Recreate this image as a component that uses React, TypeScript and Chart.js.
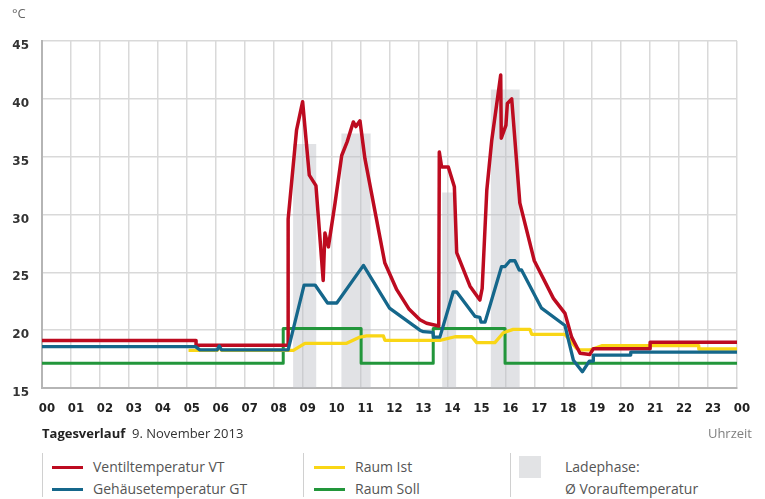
import React, { useEffect, useRef } from "react";
import { Chart, registerables } from "chart.js";

Chart.register(...registerables);

// ---- data (hours of day, °C) ----
const hourLabels = ["00","01","02","03","04","05","06","07","08","09","10","11","12","13","14","15","16","17","18","19","20","21","22","23","00"];
const yTickValues = [15, 20, 25, 30, 35, 40, 45];

const ventilHours = [0, 5.32, 5.32, 8.5, 8.5, 8.79, 9.0, 9.23, 9.46, 9.71, 9.77, 9.89, 10.12, 10.35, 10.54, 10.75, 10.84, 10.98, 11.15, 11.84, 12.25, 12.68, 13.05, 13.28, 13.7, 13.72, 13.8, 14.03, 14.24, 14.32, 14.78, 15.12, 15.2, 15.36, 15.53, 15.84, 15.86, 16.02, 16.07, 16.22, 16.5, 17.0, 17.66, 18.06, 18.29, 18.58, 18.92, 19.04, 21.0, 21.0, 24];
const ventilTemps = [19.1, 19.1, 18.7, 18.7, 29.6, 37.3, 39.75, 33.4, 32.5, 24.3, 28.4, 27.2, 31.0, 35.1, 36.3, 38.0, 37.6, 38.1, 34.85, 25.8, 23.5, 21.8, 20.9, 20.6, 20.36, 35.4, 34.1, 34.1, 32.4, 26.7, 23.8, 22.6, 23.6, 32.1, 36.4, 42.06, 36.6, 37.7, 39.6, 40.0, 31.0, 26.0, 22.75, 21.45, 19.4, 18.0, 17.9, 18.4, 18.4, 18.95, 18.95];

const gehaeuseHours = [0, 5.3, 5.45, 6.05, 6.12, 6.2, 8.5, 9.05, 9.43, 9.86, 10.18, 11.1, 12.0, 13.05, 13.17, 13.5, 13.52, 13.74, 14.2, 14.32, 14.95, 15.12, 15.16, 15.3, 15.36, 15.87, 15.99, 16.16, 16.33, 16.48, 16.56, 17.25, 18.06, 18.35, 18.66, 18.9, 19.04, 19.04, 20.33, 20.33, 24];
const gehaeuseTemps = [18.57, 18.57, 18.3, 18.3, 18.63, 18.3, 18.3, 23.9, 23.9, 22.35, 22.35, 25.6, 21.9, 20.0, 19.87, 19.8, 19.4, 19.4, 23.3, 23.3, 21.2, 21.1, 20.7, 20.7, 21.2, 25.5, 25.5, 26.0, 26.0, 25.2, 25.2, 21.9, 20.4, 17.4, 16.4, 17.33, 17.33, 17.85, 17.85, 18.1, 18.1];

const raumIstHours = [5.06, 6.05, 6.12, 6.2, 8.68, 9.08, 10.52, 10.98, 11.21, 11.79, 11.84, 13.74, 14.26, 14.84, 15.01, 15.64, 15.93, 16.27, 16.85, 16.91, 18.06, 18.46, 18.58, 18.92, 19.35, 22.68, 22.68, 24];
const raumIstTemps = [18.25, 18.25, 18.55, 18.25, 18.25, 18.86, 18.86, 19.4, 19.5, 19.5, 19.12, 19.12, 19.43, 19.43, 18.92, 18.92, 19.78, 20.07, 20.07, 19.64, 19.64, 18.43, 18.29, 18.29, 18.66, 18.66, 18.37, 18.37];

const raumSollHours = [0, 8.33, 8.33, 11.02, 11.02, 13.51, 13.51, 15.99, 15.99, 24];
const raumSollTemps = [17.15, 17.15, 20.15, 20.15, 17.15, 17.15, 20.15, 20.15, 17.15, 17.15];

const ladeStart = [8.67, 10.34, 13.82, 15.5];
const ladeEnd = [9.47, 11.35, 14.3, 16.5];
const ladeAvg = [36.1, 37.0, 31.9, 40.8];

// ---- styling ----
const RED = "#bd0b20";
const BLUE = "#15678b";
const YELLOW = "#f9d616";
const GREEN = "#22963b";
const LADE = "rgba(188,191,197,0.45)";
const TEXT_FONT = "'Open Sans', 'DejaVu Sans', sans-serif";

const pts = (xs: number[], ys: number[]) => xs.map((x, i) => ({ x, y: ys[i] }));

function ladePoints() {
  const out: { x: number; y: number }[] = [];
  for (let i = 0; i < ladeStart.length; i++) {
    out.push({ x: ladeStart[i], y: 15 });
    out.push({ x: ladeStart[i], y: ladeAvg[i] });
    out.push({ x: ladeEnd[i], y: ladeAvg[i] });
    out.push({ x: ladeEnd[i], y: 15 });
  }
  return out;
}

export default function App() {
  const ref = useRef<HTMLCanvasElement | null>(null);

  useEffect(() => {
    if (!ref.current) return;
    const lineDs = (label: string, data: any, color: string, order: number, width = 3.3) => ({
      label,
      data,
      borderColor: color,
      backgroundColor: color,
      borderWidth: width,
      pointRadius: 0,
      tension: 0,
      fill: false,
      order,
      borderJoinStyle: "round" as const,
    });
    const chart = new Chart(ref.current, {
      type: "line",
      data: {
        datasets: [
          lineDs("Gehäusetemperatur GT", pts(gehaeuseHours, gehaeuseTemps), BLUE, 1),
          lineDs("Ventiltemperatur VT", pts(ventilHours, ventilTemps), RED, 2, 3.5),
          lineDs("Raum Ist", pts(raumIstHours, raumIstTemps), YELLOW, 3),
          lineDs("Raum Soll", pts(raumSollHours, raumSollTemps), GREEN, 4, 3),
          {
            label: "Ladephase",
            data: ladePoints(),
            borderWidth: 0,
            borderColor: "rgba(0,0,0,0)",
            backgroundColor: LADE,
            pointRadius: 0,
            tension: 0,
            fill: "start",
            order: 5,
          },
        ],
      },
      options: {
        animation: false,
        responsive: false,
        maintainAspectRatio: false,
        layout: { padding: { top: 41, right: 28, left: 0, bottom: 0 } },
        plugins: { legend: { display: false }, tooltip: { enabled: false } },
        scales: {
          x: {
            type: "linear",
            min: 0,
            max: 24,
            afterFit: (s: any) => {
              s.height = 37;
            },
            afterBuildTicks: (s: any) => {
              s.ticks = hourLabels.map((_, i) => ({ value: i }));
            },
            ticks: {
              autoSkip: false,
              maxRotation: 0,
              padding: 13,
              labelOffset: 5,
              color: "#222",
              font: { family: "'Liberation Sans Narrow', 'DejaVu Sans Condensed', sans-serif", weight: "bold", size: 13 },
              callback: (v: any) => hourLabels[Number(v)],
            },
            grid: { color: "#d9d9d9", lineWidth: 1.5, drawTicks: false },
            border: { color: "#b5b5b5", width: 2 },
          },
          y: {
            type: "linear",
            min: 15,
            max: 45,
            afterFit: (s: any) => {
              s.width = 42;
            },
            afterBuildTicks: (s: any) => {
              s.ticks = yTickValues.map((v) => ({ value: v }));
            },
            ticks: {
              padding: 13,
              labelOffset: 5,
              color: "#333",
              font: { family: "'DejaVu Sans', sans-serif", weight: "bold", size: 12 },
              callback: (v: any) => String(v),
            },
            grid: { color: "#d9d9d9", lineWidth: 1.5, drawTicks: false },
            border: { color: "#b5b5b5", width: 2 },
          },
        },
      },
    });
    return () => chart.destroy();
  }, []);

  const legendText: React.CSSProperties = {
    position: "absolute",
    fontSize: 14,
    lineHeight: "18px",
    color: "#555",
    whiteSpace: "nowrap",
  };
  const swatch = (left: number, top: number, color: string): React.CSSProperties => ({
    position: "absolute",
    left,
    top,
    width: 31,
    height: 3,
    background: color,
  });
  const sep = (left: number): React.CSSProperties => ({
    position: "absolute",
    left,
    top: 453,
    width: 1,
    height: 44,
    background: "#d0d0d0",
  });

  return (
    <div
      style={{
        position: "fixed",
        left: 0,
        top: 0,
        width: 765,
        height: 499,
        background: "#fff",
        fontFamily: TEXT_FONT,
        overflow: "hidden",
      }}
    >
      <canvas ref={ref} width={765} height={425} style={{ position: "absolute", left: 0, top: 0, width: 765, height: 425 }} />
      <div style={{ position: "absolute", left: 12, top: 5, fontSize: 13, lineHeight: "16px", color: "#666" }}>°C</div>
      <div style={{ position: "absolute", left: 42, top: 424, fontSize: 13, lineHeight: "18px", color: "#333", whiteSpace: "nowrap" }}>
        <span style={{ fontWeight: "bold", color: "#222" }}>Tagesverlauf</span>
        <span>&nbsp; 9. November 2013</span>
      </div>
      <div style={{ position: "absolute", right: 13, top: 424, fontSize: 13, lineHeight: "18px", color: "#808080" }}>Uhrzeit</div>

      <div style={sep(42)} />
      <div style={sep(303)} />
      <div style={sep(510)} />

      <div style={swatch(52, 466, RED)} />
      <div style={{ ...legendText, left: 93, top: 458 }}>Ventiltemperatur VT</div>
      <div style={swatch(52, 488, BLUE)} />
      <div style={{ ...legendText, left: 93, top: 480 }}>Gehäusetemperatur GT</div>

      <div style={swatch(314, 466, YELLOW)} />
      <div style={{ ...legendText, left: 355, top: 458 }}>Raum Ist</div>
      <div style={swatch(314, 488, GREEN)} />
      <div style={{ ...legendText, left: 355, top: 480 }}>Raum Soll</div>

      <div style={{ position: "absolute", left: 519, top: 456, width: 22, height: 22, background: "#e2e3e5" }} />
      <div style={{ ...legendText, left: 565, top: 458 }}>Ladephase:</div>
      <div style={{ ...legendText, left: 565, top: 480 }}>Ø Vorauftemperatur</div>
    </div>
  );
}
